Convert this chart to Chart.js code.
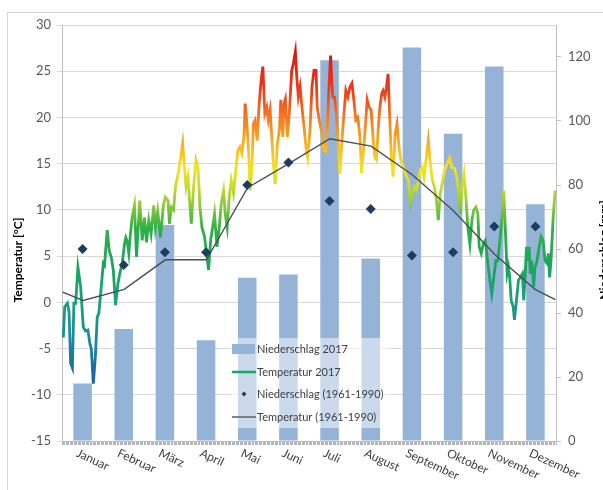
<!DOCTYPE html>
<html>
<head>
<meta charset="utf-8">
<script src="https://cdn.jsdelivr.net/npm/chart.js@4.4.1/dist/chart.umd.min.js"></script>
<style>
  html, body { margin: 0; padding: 0; background: #fff; overflow: hidden; }
  #wrap { position: relative; width: 603px; height: 490px; overflow: hidden; }
  #frame { position: absolute; left: 7px; top: 12px; width: 700px; height: 600px; border: 1px solid #d9d9d9; }
  canvas { position: absolute; left: 0; top: 0; }
</style>
</head>
<body>
<div id="wrap">
  <div id="frame"></div>
  <canvas id="chart" width="603" height="490"></canvas>
</div>
<script>
// Monate
const months = ['Januar', 'Februar', 'März', 'April', 'Mai', 'Juni', 'Juli', 'August', 'September', 'Oktober', 'November', 'Dezember'];

// Niederschlag 2017 [mm] (rechte Achse)
const rain2017 = [18, 35, 67.5, 31.5, 51, 52, 119, 57, 123, 96, 117, 74];

// Niederschlag 1961-1990 [mm] (rechte Achse)
const rainNormal = [60, 55, 59, 59, 80, 87, 75, 72.5, 58, 59, 67, 67];

// Temperatur 1961-1990 [°C], Stützpunkte (Tag im Jahr)
const normDay = [0, 15.2, 45.6, 76, 106.5, 137, 167.5, 198, 228.5, 259, 289.5, 320, 350, 365];
const normTemp = [1.1, 0.2, 1.4, 4.6, 4.6, 12.4, 15.0, 17.7, 16.9, 13.8, 9.9, 5.2, 1.4, 0.3];

const tempDay = [
  0.5, 1.5, 3.5, 4.7, 5.9, 7.2, 8.3, 9.6, 11.3, 13.3, 15.3, 17.0, 18.7, 20.2, 21.2, 22.7, 24.2, 25.6, 26.8, 28.6,
  30.1, 31.0, 33.0, 34.5, 36.0, 37.5, 39.2, 40.9, 42.3, 44.1, 45.8, 46.8, 47.8, 49.0, 50.2, 51.5, 53.2, 54.7, 57.1, 58.9,
  60.6, 62.1, 63.8, 65.5, 67.5, 68.7, 70.4, 72.4, 74.6, 76.1, 78.1, 79.1, 80.5, 82.2, 83.5, 85.5, 87.2, 88.9, 90.4, 91.4,
  92.9, 93.8, 95.3, 97.0, 98.8, 100.3, 101.7, 103.2, 105.1, 106.6, 108.1, 109.6, 111.1, 112.5, 114.3, 116.0, 117.5, 119.2, 120.4, 121.9,
  123.4, 124.9, 126.6, 128.3, 129.8, 131.3, 132.8, 134.3, 135.2, 136.5, 137.7, 138.9, 140.2, 141.3, 142.6, 144.1, 145.6, 147.0, 148.3, 149.8,
  151.2, 152.4, 153.7, 154.9, 156.1, 157.4, 159.1, 160.6, 161.6, 163.1, 164.0, 165.0, 166.5, 167.9, 169.7, 170.9, 172.4, 173.4, 174.6, 175.9,
  177.3, 178.8, 180.3, 181.5, 183.2, 184.7, 186.2, 187.7, 188.6, 190.1, 191.9, 193.6, 194.8, 196.0, 197.3, 198.5, 200.0, 201.5, 203.0, 204.2,
  205.4, 206.9, 208.4, 209.8, 211.3, 212.8, 214.3, 215.7, 217.2, 218.7, 220.2, 221.4, 223.1, 224.6, 225.6, 227.1, 228.5, 230.0, 231.3, 232.5,
  233.7, 235.0, 236.4, 237.4, 238.7, 239.9, 241.1, 242.4, 243.6, 244.8, 246.3, 247.7, 249.2, 250.5, 251.7, 253.2, 254.7, 256.2, 257.6, 259.1,
  260.6, 262.1, 263.6, 265.0, 266.5, 267.7, 269.5, 270.9, 272.4, 273.9, 275.4, 276.9, 278.3, 279.8, 281.3, 283.0, 284.7, 286.7, 288.2, 290.4,
  292.4, 293.8, 294.8, 295.8, 297.3, 298.7, 300.2, 301.7, 303.2, 304.6, 306.1, 307.6, 308.6, 310.1, 311.6, 313.1, 314.0, 315.0, 316.5, 317.9,
  319.4, 320.9, 322.4, 323.9, 325.3, 326.8, 328.1, 329.3, 330.3, 331.2, 332.3, 333.8, 334.7, 336.2, 337.7, 339.1, 340.6, 341.6, 342.6, 343.6,
  344.5, 345.6, 346.5, 347.5, 349.0, 350.0, 351.5, 353.0, 354.4, 355.9, 357.4, 358.9, 359.8, 360.8, 361.8, 363.3, 364.8
];
const tempValue = [
  -3.8, -0.5, -0.1, -1.0, -6.6, -7.1, -0.1, -0.1, 3.8, 1.7, -2.7, -3.1, -3.0, -4.5, -5.0, -8.8, -5.9, -1.6, -1.2, 1.7,
  4.2, 4.0, 7.8, 5.6, 4.9, 3.5, -0.3, 2.0, 3.1, 4.2, 6.3, 7.0, 6.6, 5.3, 7.4, 9.2, 10.5, 4.9, 11.0, 6.7,
  9.2, 6.5, 8.9, 7.4, 10.5, 8.1, 9.9, 7.0, 10.5, 11.4, 11.0, 8.5, 10.3, 10.0, 12.5, 13.9, 15.4, 17.2, 14.3, 12.5,
  13.6, 11.4, 8.5, 12.5, 15.4, 14.6, 10.3, 8.1, 7.1, 5.3, 3.5, 6.7, 8.1, 9.6, 6.0, 8.1, 10.7, 12.1, 9.6, 8.1,
  11.4, 13.2, 11.8, 14.3, 16.4, 16.8, 16.1, 17.9, 21.5, 19.3, 16.4, 12.1, 14.6, 19.3, 19.7, 17.5, 21.5, 24.0, 25.5, 20.4,
  21.1, 19.7, 20.8, 17.9, 15.0, 12.8, 17.2, 18.6, 21.9, 17.9, 21.5, 22.0, 17.9, 20.4, 25.1, 25.8, 27.1, 24.5, 22.2, 23.3,
  21.1, 19.0, 16.8, 15.7, 18.6, 23.3, 25.1, 25.1, 21.1, 19.7, 18.4, 16.4, 16.3, 18.6, 23.3, 26.7, 22.2, 22.2, 20.0, 16.8,
  13.9, 17.5, 20.4, 22.9, 22.2, 23.3, 23.7, 21.9, 19.7, 20.0, 17.9, 14.0, 16.8, 19.7, 21.9, 21.1, 20.8, 17.7, 15.7, 15.4,
  18.6, 21.1, 22.6, 22.9, 22.2, 23.3, 24.7, 19.7, 15.4, 13.6, 18.2, 19.3, 16.8, 15.4, 15.0, 14.3, 13.6, 13.2, 10.7, 11.8,
  12.5, 12.1, 13.2, 14.3, 14.6, 13.6, 15.7, 17.5, 15.0, 13.2, 12.5, 11.1, 8.9, 11.8, 12.9, 14.3, 15.0, 15.7, 14.6, 14.5,
  13.2, 11.0, 9.6, 12.5, 13.9, 11.4, 8.1, 6.3, 8.9, 10.0, 10.3, 9.6, 6.0, 5.3, 6.3, 6.7, 5.6, 4.2, 2.4, 0.9,
  2.7, 4.5, 4.5, 6.7, 8.9, 12.1, 7.4, 3.1, 3.8, 2.7, 0.2, -0.5, -1.9, 0.2, 2.4, 2.7, 3.1, 0.2, 2.7, 6.0,
  4.5, 6.0, 3.1, 4.5, 1.7, 3.8, 4.5, 6.0, 7.1, 6.7, 4.5, 4.2, 5.3, 2.7, 4.5, 8.9, 12.1
];

// Farbverlauf der Temperaturlinie
const gradTemps = [-9, -4, 0, 4, 8, 10.5, 12.5, 14.5, 17, 20, 23, 27];
const gradColors = ['#1a5fa6', '#1a8aa0', '#19a07c', '#1ba65a', '#2fb046', '#8cc83a', '#c8dc2a', '#f2e41e', '#f8b424', '#f37a22', '#ec3d1a', '#e2140f'];

const barColor = '#95b3d7';
const tickColor = '#595959';

Chart.defaults.font.family = 'Lato, "Open Sans", sans-serif';

function tempGradient(chart) {
  const {ctx, chartArea, scales} = chart;
  if (!chartArea) return '#1ba65a';
  const y = scales.y;
  const top = y.getPixelForValue(gradTemps[gradTemps.length - 1]);
  const bottom = y.getPixelForValue(gradTemps[0]);
  const g = ctx.createLinearGradient(0, bottom, 0, top);
  const span = gradTemps[gradTemps.length - 1] - gradTemps[0];
  for (let i = 0; i < gradTemps.length; i++) {
    g.addColorStop((gradTemps[i] - gradTemps[0]) / span, gradColors[i]);
  }
  return g;
}

// Legende innerhalb der Grafik
const legendBox = {
  id: 'legendBox',
  afterDatasetsDraw(chart) {
    const ctx = chart.ctx;
    const ds = chart.data.datasets;
    const left = 230, top = 338;
    ctx.save();
    ctx.fillStyle = 'rgba(255,255,255,0.5)';
    ctx.fillRect(left, top, 160, 90);
    ctx.font = '11px Lato';
    ctx.textBaseline = 'middle';
    ctx.textAlign = 'left';
    const rows = [349, 372, 394, 417];
    const order = [0, 1, 3, 2];
    order.forEach((idx, r) => {
      const d = ds[idx];
      const y = rows[r];
      if (idx === 0) {
        ctx.fillStyle = barColor;
        ctx.fillRect(232, y - 5, 23, 10);
      } else if (idx === 1) {
        ctx.strokeStyle = '#1ba65a';
        ctx.lineWidth = 2.5;
        ctx.beginPath(); ctx.moveTo(232, y); ctx.lineTo(256, y); ctx.stroke();
      } else if (idx === 3) {
        ctx.fillStyle = '#1f3b5e';
        ctx.beginPath();
        ctx.moveTo(244, y - 2.5); ctx.lineTo(246.5, y); ctx.lineTo(244, y + 2.5); ctx.lineTo(241.5, y);
        ctx.closePath(); ctx.fill();
      } else {
        ctx.strokeStyle = '#5a5f66';
        ctx.lineWidth = 1.5;
        ctx.beginPath(); ctx.moveTo(232, y); ctx.lineTo(256, y); ctx.stroke();
      }
      ctx.fillStyle = '#404040';
      ctx.fillText(d.label, 257, y);
    });
    ctx.restore();
  }
};

// Monatsbeschriftung (schräg) und Achsentitel
const axisText = {
  id: 'axisText',
  afterDraw(chart) {
    const {ctx, scales} = chart;
    ctx.save();
    ctx.font = '12px Lato';
    ctx.fillStyle = '#404040';
    ctx.textAlign = 'left';
    ctx.textBaseline = 'top';
    months.forEach((m, i) => {
      const x = scales.x.getPixelForValue(i);
      ctx.save();
      ctx.translate(x - 3, 447);
      ctx.rotate(25 * Math.PI / 180);
      ctx.fillText(m, 0, 0);
      ctx.restore();
    });

    ctx.font = 'bold 12px Lato';
    ctx.fillStyle = '#000';
    ctx.textAlign = 'center';
    ctx.save();
    ctx.translate(12, 260);
    ctx.rotate(-Math.PI / 2);
    ctx.fillText('Temperatur [°C]', 0, 0);
    ctx.restore();

    ctx.save();
    ctx.translate(598, 250);
    ctx.rotate(-Math.PI / 2);
    ctx.fillText('Niederschlag [mm]', 0, 0);
    ctx.restore();
    ctx.restore();
  }
};

new Chart(document.getElementById('chart'), {
  type: 'bar',
  data: {
    labels: months,
    datasets: [{
      type: 'bar',
      label: 'Niederschlag 2017',
      data: rain2017,
      xAxisID: 'x',
      yAxisID: 'y2',
      backgroundColor: barColor,
      barPercentage: 0.45,
      categoryPercentage: 1,
      grouped: false,
      order: 4
    }, {
      type: 'line',
      label: 'Temperatur 2017',
      data: tempDay.map((d, i) => ({x: d, y: tempValue[i]})),
      xAxisID: 'x2',
      yAxisID: 'y',
      borderColor: ctx => tempGradient(ctx.chart),
      borderWidth: 2.8,
      pointRadius: 0,
      tension: 0,
      order: 3
    }, {
      type: 'line',
      label: 'Temperatur (1961-1990)',
      data: normDay.map((d, i) => ({x: d, y: normTemp[i]})),
      xAxisID: 'x2',
      yAxisID: 'y',
      borderColor: '#4a4f57',
      borderWidth: 1.4,
      pointRadius: 0,
      tension: 0,
      order: 2
    }, {
      type: 'line',
      label: 'Niederschlag (1961-1990)',
      data: rainNormal,
      xAxisID: 'x',
      yAxisID: 'y2',
      showLine: false,
      pointStyle: 'rectRot',
      pointRadius: 5,
      backgroundColor: '#1f3b5e',
      borderColor: '#1f3b5e',
      borderWidth: 0,
      order: 1
    }]
  },
  options: {
    responsive: false,
    animation: false,
    devicePixelRatio: 1,
    layout: { padding: { top: 25, left: 0, right: 0, bottom: 0 } },
    plugins: { legend: { display: false }, tooltip: { enabled: false } },
    scales: {
      x: {
        type: 'category',
        display: false,
        offset: true
      },
      x2: {
        type: 'linear',
        position: 'bottom',
        min: 0,
        max: 365,
        grid: { drawOnChartArea: false, tickLength: 4, color: '#b4b4b4' },
        border: { color: '#bfbfbf' },
        ticks: { display: false, stepSize: 1 },
        afterFit(s) { s.height = 49; }
      },
      y: {
        position: 'left',
        min: -15,
        max: 30,
        ticks: { stepSize: 5, color: tickColor, font: { size: 13 }, padding: 6 },
        grid: { color: '#d9d9d9', tickLength: 5 },
        border: { color: '#bfbfbf' },
        afterFit(s) { s.width = 62; }
      },
      y2: {
        position: 'right',
        min: 0,
        max: 130,
        ticks: { stepSize: 20, includeBounds: false, color: tickColor, font: { size: 13 }, padding: 7 },
        grid: { drawOnChartArea: false, tickLength: 5, color: '#bfbfbf' },
        border: { color: '#bfbfbf' },
        afterFit(s) { s.width = 47; }
      }
    }
  },
  plugins: [legendBox, axisText]
});
</script>
</body>
</html>
